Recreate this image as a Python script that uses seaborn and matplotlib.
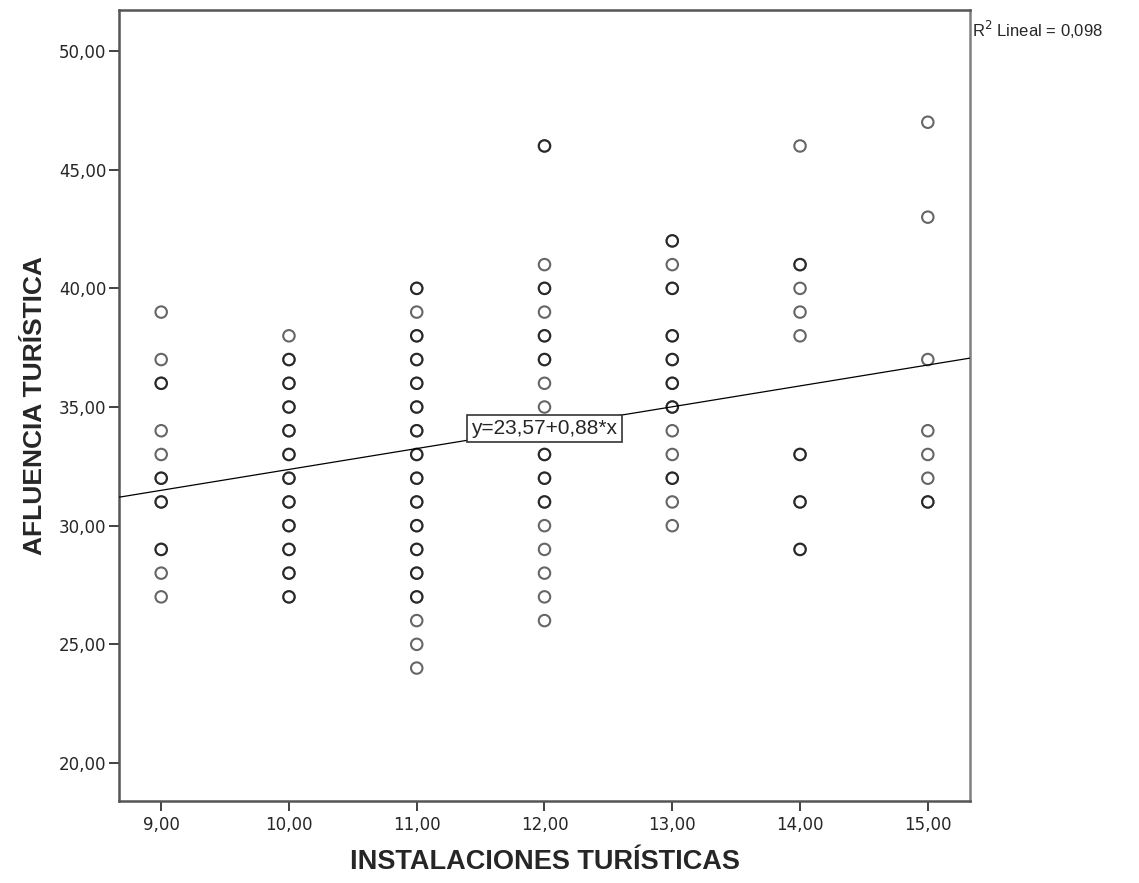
import numpy as np
import pandas as pd
import matplotlib
matplotlib.use("Agg")
import matplotlib.pyplot as plt
import seaborn as sns

# ---- data (duplicated values = overlapping cases drawn darker) ----
y_9 = [39, 37, 36, 36, 34, 33, 32, 32, 31, 31, 29, 29, 28, 27]
y_10 = [38, 37, 37, 36, 36, 35, 35, 34, 34, 33, 33, 32, 32, 31, 31, 30, 30,
        29, 29, 28, 28, 27, 27]
y_11 = [40, 40, 39, 38, 38, 37, 37, 36, 36, 35, 35, 34, 34, 33, 33, 32, 32,
        31, 31, 30, 30, 29, 29, 28, 28, 27, 27, 26, 25, 24]
y_12 = [46, 46, 41, 40, 40, 39, 38, 38, 37, 37, 36, 35, 34, 33, 33, 32, 32,
        31, 31, 30, 29, 28, 27, 26]
y_13 = [42, 42, 41, 40, 40, 38, 38, 37, 37, 36, 36, 35, 35, 34, 33, 32, 32,
        31, 30]
y_14 = [46, 41, 41, 40, 39, 38, 33, 33, 31, 31, 29, 29]
y_15 = [47, 43, 37, 34, 33, 32, 31, 31]
x_values = [9, 10, 11, 12, 13, 14, 15]

intercept = 23.57
slope = 0.88
r2 = 0.098

xticks = [9, 10, 11, 12, 13, 14, 15]
yticks = [20, 25, 30, 35, 40, 45, 50]

columns = [y_9, y_10, y_11, y_12, y_13, y_14, y_15]
df = pd.DataFrame({
    "INSTALACIONES TURÍSTICAS": np.concatenate([[xv] * len(c) for xv, c in zip(x_values, columns)]).astype(float),
    "AFLUENCIA TURÍSTICA": np.concatenate(columns).astype(float),
})

sns.set_theme(style="white")
plt.rcParams["font.family"] = ["Liberation Sans", "DejaVu Sans"]

fig = plt.figure(figsize=(11.39, 8.83), dpi=100)
ax = fig.add_axes([0.1045, 0.0929, 0.7471, 0.8958])

sns.scatterplot(data=df, x="INSTALACIONES TURÍSTICAS", y="AFLUENCIA TURÍSTICA",
                ax=ax, marker="o", s=68, facecolor="none",
                edgecolor=(0, 0, 0, 0.6), linewidth=1.5, legend=False)

ax.set_xlim(8.67, 15.33)
ax.set_ylim(18.4, 51.73)

# fitted line across the full x range
xs = np.array(ax.get_xlim())
ax.plot(xs, intercept + slope * xs, color="black", linewidth=0.9, zorder=3)

eq = "y=" + f"{intercept:.2f}".replace(".", ",") + "+" + f"{slope:.2f}".replace(".", ",") + "*x"
ax.text(12.0, 34.1, eq, ha="center", va="center", fontsize=15, zorder=5,
        bbox=dict(boxstyle="square,pad=0.2", facecolor="white", edgecolor="#333333", linewidth=1.2))

fig.text(0.8534, 0.966, "R$^2$ Lineal = " + f"{r2:.3f}".replace(".", ","),
         ha="left", va="center", fontsize=12)

ax.set_xticks(xticks)
ax.set_yticks(yticks)
ax.set_xticklabels([f"{v:.2f}".replace(".", ",") for v in xticks], fontsize=12, family="DejaVu Sans")
ax.set_yticklabels([f"{v:.2f}".replace(".", ",") for v in yticks], fontsize=12, family="DejaVu Sans")
ax.tick_params(axis="both", direction="out", length=7.5, width=1.3, color="#333333",
               bottom=True, left=True, top=False, right=False)
ax.tick_params(axis="x", pad=3)
ax.tick_params(axis="y", pad=1.5)

for sp in ax.spines.values():
    sp.set_color("#555555")
    sp.set_linewidth(1.8)
ax.spines["right"].set_color("#808080")

ax.set_xlabel("INSTALACIONES TURÍSTICAS", fontsize=19.5, fontweight="bold", labelpad=11)
ax.set_ylabel("AFLUENCIA TURÍSTICA", fontsize=19, fontweight="bold", labelpad=9)

fig.savefig("out.png", dpi=100, facecolor="white")
